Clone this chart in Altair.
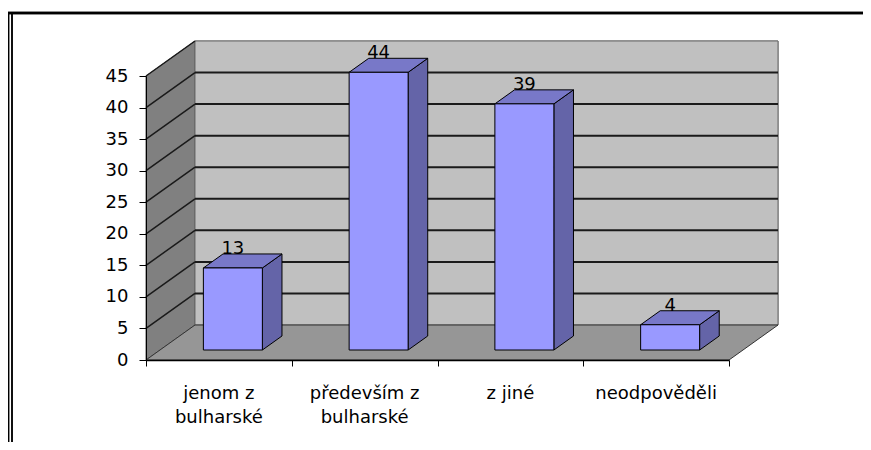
import altair as alt
import pandas as pd

# ---- data ----
categories = ["jenom z bulharské", "především z bulharské", "z jiné", "neodpověděli"]
category_labels = ["jenom z\nbulharské", "především z\nbulharské", "z jiné", "neodpověděli"]
values = [13, 44, 39, 4]
y_ticks = [0, 5, 10, 15, 20, 25, 30, 35, 40, 45]

# ---- geometry of the pseudo-3D projection ----
W, H = 583, 284
YMAX = 45
N = len(categories)
ux = W / N            # px per x unit
uy = H / YMAX         # px per y unit
DX = 49 / ux          # full depth, x units
DY = 35 / uy          # full depth, y units
F1, F2 = 10 / 35, 24 / 35   # bar slab depth fractions
HW = 29.5 / ux        # bar half width

FONT = "DejaVu Sans"
PAD = {"left": 138, "top": 68, "right": 134, "bottom": 82}

bars = pd.DataFrame({"category": categories, "label": category_labels,
                     "value": values, "idx": list(range(N))})
grid = pd.DataFrame({"v": y_ticks})
depth = pd.DataFrame({"d": [0, 1]})

xs = alt.Scale(domain=[0, N], nice=False, zero=False)
ys = alt.Scale(domain=[0, YMAX], nice=False, zero=False)

XAX = alt.Axis(values=list(range(N + 1)), labels=False, title=None, grid=False,
               domainColor="black", domainWidth=1.5, tickColor="black", tickSize=6,
               tickWidth=1, zindex=1)
YAX = alt.Axis(values=y_ticks, title=None, grid=False, labelFont=FONT, labelFontSize=18,
               labelColor="black", labelPadding=11, domainColor="black", domainWidth=1,
               tickColor="black", tickSize=7, tickWidth=1, zindex=1)


def X(f):
    return alt.X(f, scale=xs, axis=XAX, title=None)


def Y(f):
    return alt.Y(f, scale=ys, axis=YAX, title=None)


def XD(v):
    return alt.datum(v, scale=xs, axis=XAX, title=None)


def YD(v):
    return alt.datum(v, scale=ys, axis=YAX, title=None)


# frame
RIGHT = W + PAD["right"]
BOTTOM = H + PAD["bottom"]
frame_top = alt.Chart(depth).mark_rule(color="black", strokeWidth=2.5).encode(
    x=alt.value(-138), x2=alt.value(RIGHT), y=alt.value(-63))
frame_l1 = alt.Chart(depth).mark_rule(color="black", strokeWidth=1.5).encode(
    x=alt.value(-137.5), y=alt.value(-63), y2=alt.value(BOTTOM))
frame_l2 = alt.Chart(depth).mark_rule(color="black", strokeWidth=1.5).encode(
    x=alt.value(-134), y=alt.value(-63), y2=alt.value(BOTTOM))

# side wall (left)
side_wall = alt.Chart(depth).transform_calculate(
    x="datum.d * %f" % DX, y="datum.d * %f" % DY, y2="%f + datum.d * %f" % (YMAX, DY)
).mark_area(color="#808080", stroke="#555555", strokeWidth=1).encode(
    x=X("x:Q"), y=Y("y:Q"), y2="y2:Q",
)

# back wall
back_wall = alt.Chart(depth).mark_rect(color="#C0C0C0", stroke="#6a6a6a", strokeWidth=1).encode(
    x=XD(DX), x2=alt.datum(N + DX),
    y=YD(DY), y2=alt.datum(YMAX + DY),
)

# gridlines on back wall
back_grid = alt.Chart(grid).transform_filter(
    "datum.v > 0 && datum.v < %f" % YMAX
).transform_calculate(
    vy="datum.v + %f" % DY
).mark_rule(color="#1a1a1a", strokeWidth=2).encode(
    x=XD(DX), x2=alt.datum(N + DX), y=Y("vy:Q"),
)

# diagonal gridlines on side wall
side_grid = alt.Chart(grid).transform_filter("datum.v > 0").transform_calculate(
    vy2="datum.v + %f" % DY
).mark_rule(color="#1a1a1a", strokeWidth=1.5).encode(
    x=XD(0), x2=alt.datum(DX), y=Y("v:Q"), y2="vy2:Q",
)

# floor
floor = alt.Chart(depth).transform_calculate(
    y="datum.d * %f" % DY, x="datum.d * %f" % DX, x2="%d + datum.d * %f" % (N, DX)
).mark_area(orient="horizontal", color="#969696", stroke="#333333", strokeWidth=1).encode(
    y=Y("y:Q"), x=X("x:Q"), x2="x2:Q",
)

base = alt.Chart(bars)

# bar front faces
front = base.transform_calculate(
    fx="datum.idx + 0.5 - %f + %f" % (HW, F1 * DX),
    fx2="datum.idx + 0.5 + %f + %f" % (HW, F1 * DX),
    fy="%f" % (F1 * DY),
    fy2="datum.value + %f" % (F1 * DY),
).mark_rect(color="#9999FF", stroke="black", strokeWidth=1).encode(
    x=X("fx:Q"), x2="fx2:Q", y=Y("fy:Q"), y2="fy2:Q",
)

# bar side faces
side = base.transform_calculate(d="[%f, %f]" % (F1, F2)).transform_flatten(["d"]).transform_calculate(
    sx="datum.idx + 0.5 + %f + datum.d * %f" % (HW, DX),
    sy="datum.d * %f" % DY,
    sy2="datum.value + datum.d * %f" % DY,
).mark_area(color="#6464A8", stroke="black", strokeWidth=1).encode(
    x=X("sx:Q"), y=Y("sy:Q"), y2="sy2:Q", detail="category:N",
)

# bar top faces
top = base.transform_calculate(d="[%f, %f]" % (F1, F2)).transform_flatten(["d"]).transform_calculate(
    ty="datum.value + datum.d * %f" % DY,
    tx="datum.idx + 0.5 - %f + datum.d * %f" % (HW, DX),
    tx2="datum.idx + 0.5 + %f + datum.d * %f" % (HW, DX),
).mark_area(orient="horizontal", color="#7878C8", stroke="black", strokeWidth=1).encode(
    y=Y("ty:Q"), x=X("tx:Q"), x2="tx2:Q", detail="category:N",
)

# value labels
value_labels = base.transform_calculate(
    lx="datum.idx + 0.5 + %f" % (F1 * DX),
    ly="datum.value + %f" % (F1 * DY),
).mark_text(font=FONT, fontSize=18, color="black", baseline="bottom", dy=-10).encode(
    x=X("lx:Q"), y=Y("ly:Q"), text="value:Q",
)

# category labels
cat_labels = base.transform_calculate(
    cx="datum.idx + 0.5"
).mark_text(font=FONT, fontSize=18, color="black", baseline="alphabetic",
            lineBreak="\n", lineHeight=24, align="center").encode(
    x=X("cx:Q"), y=alt.value(H + 39), text="label:N",
)

chart = alt.layer(
    frame_top, frame_l1, frame_l2,
    side_wall, back_wall, floor, back_grid, side_grid,
    side, top, front, value_labels, cat_labels,
).properties(
    width=W, height=H,
    autosize=alt.AutoSizeParams(type="none"),
    padding=PAD,
    background="white",
).configure_view(strokeWidth=0)

chart.save("out.html", embed_options={"renderer": "svg", "actions": False})
